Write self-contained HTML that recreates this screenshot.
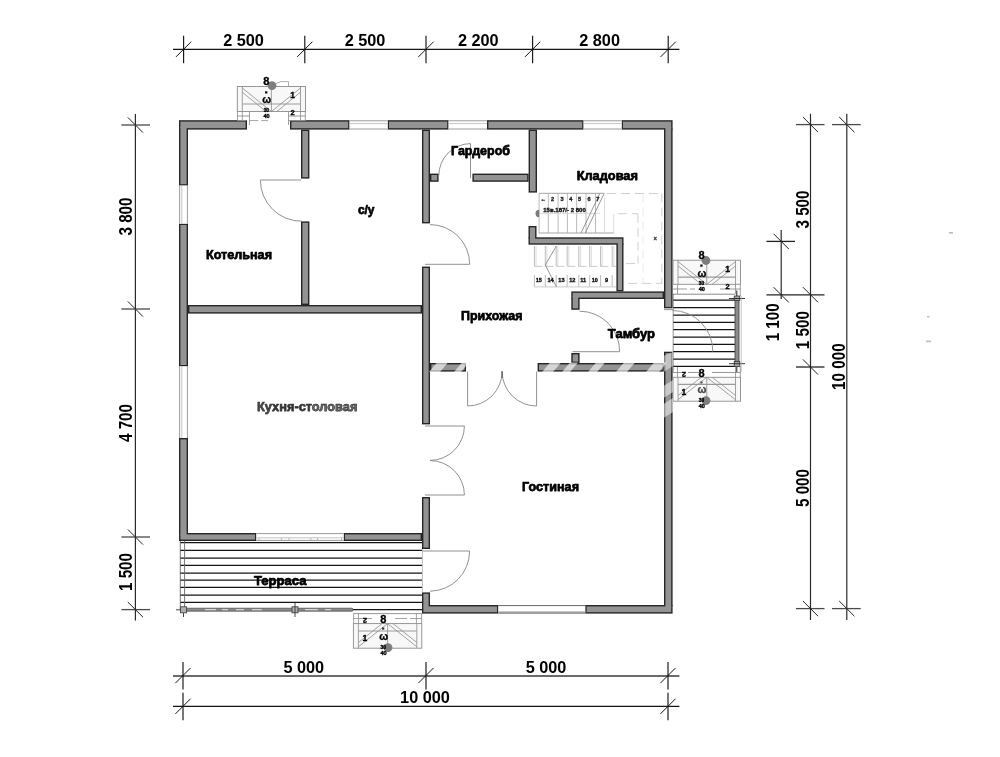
<!DOCTYPE html>
<html><head><meta charset="utf-8"><title>Plan</title>
<style>
html,body{margin:0;padding:0;background:#fff;}
body{width:1000px;height:757px;overflow:hidden;font-family:"Liberation Sans",sans-serif;}
svg{display:block;opacity:0.999;will-change:transform}
text{font-family:"Liberation Sans",sans-serif;}
</style></head><body>
<svg width="1000" height="757" viewBox="0 0 1000 757">
<rect width="1000" height="757" fill="#ffffff"/>
<g shape-rendering="auto">
<rect x="179.00" y="120.20" width="68.00" height="9.40" fill="#262626"/>
<rect x="290.00" y="120.20" width="59.60" height="9.40" fill="#262626"/>
<rect x="387.60" y="120.20" width="61.00" height="9.40" fill="#262626"/>
<rect x="487.00" y="120.20" width="96.60" height="9.40" fill="#262626"/>
<rect x="621.60" y="120.20" width="51.00" height="9.40" fill="#262626"/>
<rect x="179.00" y="128.60" width="9.00" height="57.00" fill="#262626"/>
<rect x="179.00" y="223.60" width="9.00" height="142.80" fill="#262626"/>
<rect x="179.00" y="438.00" width="9.00" height="96.00" fill="#262626"/>
<rect x="664.00" y="128.60" width="8.60" height="179.70" fill="#262626"/>
<rect x="664.00" y="351.70" width="8.60" height="254.30" fill="#262626"/>
<rect x="422.00" y="605.00" width="76.40" height="8.60" fill="#262626"/>
<rect x="585.20" y="605.00" width="87.40" height="8.60" fill="#262626"/>
<rect x="179.00" y="533.00" width="77.40" height="8.00" fill="#262626"/>
<rect x="343.60" y="533.00" width="78.40" height="8.00" fill="#262626"/>
<rect x="422.00" y="129.60" width="8.00" height="93.80" fill="#262626"/>
<rect x="422.00" y="266.60" width="8.00" height="157.80" fill="#262626"/>
<rect x="422.00" y="497.00" width="8.00" height="52.00" fill="#262626"/>
<rect x="422.00" y="592.40" width="8.00" height="13.60" fill="#262626"/>
<rect x="188.00" y="305.00" width="234.00" height="8.60" fill="#262626"/>
<rect x="301.00" y="129.60" width="8.40" height="49.00" fill="#262626"/>
<rect x="301.00" y="221.40" width="8.40" height="83.60" fill="#262626"/>
<rect x="430.00" y="173.60" width="8.60" height="8.20" fill="#262626"/>
<rect x="472.40" y="173.60" width="56.20" height="8.20" fill="#262626"/>
<rect x="528.60" y="129.60" width="8.40" height="63.00" fill="#262626"/>
<rect x="528.50" y="226.00" width="8.00" height="12.30" fill="#262626"/>
<rect x="528.50" y="237.30" width="95.00" height="7.40" fill="#262626"/>
<rect x="616.40" y="243.70" width="7.10" height="47.70" fill="#262626"/>
<rect x="571.30" y="291.40" width="92.70" height="7.60" fill="#262626"/>
<rect x="571.30" y="298.00" width="8.30" height="11.80" fill="#262626"/>
<rect x="430.00" y="363.00" width="36.00" height="8.60" fill="#262626"/>
<rect x="537.60" y="363.00" width="126.40" height="8.60" fill="#262626"/>
<rect x="571.30" y="353.00" width="8.30" height="10.00" fill="#262626"/>
<rect x="180.40" y="121.60" width="65.20" height="6.60" fill="#939393"/>
<rect x="291.40" y="121.60" width="56.80" height="6.60" fill="#939393"/>
<rect x="389.00" y="121.60" width="58.20" height="6.60" fill="#939393"/>
<rect x="488.40" y="121.60" width="93.80" height="6.60" fill="#939393"/>
<rect x="623.00" y="121.60" width="48.20" height="6.60" fill="#939393"/>
<rect x="180.40" y="127.00" width="6.20" height="57.20" fill="#939393"/>
<rect x="180.40" y="225.00" width="6.20" height="140.00" fill="#939393"/>
<rect x="180.40" y="439.40" width="6.20" height="96.20" fill="#939393"/>
<rect x="665.40" y="127.00" width="5.80" height="179.90" fill="#939393"/>
<rect x="665.40" y="353.10" width="5.80" height="254.50" fill="#939393"/>
<rect x="423.40" y="606.40" width="73.60" height="5.80" fill="#939393"/>
<rect x="586.60" y="606.40" width="84.60" height="5.80" fill="#939393"/>
<rect x="180.40" y="534.40" width="74.60" height="5.20" fill="#939393"/>
<rect x="345.00" y="534.40" width="75.60" height="5.20" fill="#939393"/>
<rect x="423.40" y="131.00" width="5.20" height="91.00" fill="#939393"/>
<rect x="423.40" y="268.00" width="5.20" height="155.00" fill="#939393"/>
<rect x="423.40" y="498.40" width="5.20" height="49.20" fill="#939393"/>
<rect x="423.40" y="593.80" width="5.20" height="13.80" fill="#939393"/>
<rect x="189.40" y="306.40" width="231.20" height="5.80" fill="#939393"/>
<rect x="302.40" y="131.00" width="5.60" height="46.20" fill="#939393"/>
<rect x="302.40" y="222.80" width="5.60" height="80.80" fill="#939393"/>
<rect x="431.40" y="175.00" width="5.80" height="5.40" fill="#939393"/>
<rect x="473.80" y="175.00" width="53.40" height="5.40" fill="#939393"/>
<rect x="530.00" y="131.00" width="5.60" height="60.20" fill="#939393"/>
<rect x="529.90" y="227.40" width="5.20" height="12.50" fill="#939393"/>
<rect x="529.90" y="238.70" width="92.20" height="4.60" fill="#939393"/>
<rect x="617.80" y="242.10" width="4.30" height="47.90" fill="#939393"/>
<rect x="572.70" y="292.80" width="89.90" height="4.80" fill="#939393"/>
<rect x="572.70" y="296.40" width="5.50" height="12.00" fill="#939393"/>
<rect x="431.40" y="364.40" width="33.20" height="5.80" fill="#939393"/>
<rect x="539.00" y="364.40" width="123.60" height="5.80" fill="#939393"/>
<rect x="572.70" y="354.40" width="5.50" height="7.20" fill="#939393"/>
</g>
<rect x="349.60" y="120.60" width="38.00" height="8.60" fill="#fff" stroke="none" stroke-width="1.0" />
<line x1="349.60" y1="120.80" x2="387.60" y2="120.80" stroke="#8f8f8f" stroke-width="0.9" />
<line x1="349.60" y1="129.00" x2="387.60" y2="129.00" stroke="#8f8f8f" stroke-width="0.9" />
<line x1="349.60" y1="123.60" x2="387.60" y2="123.60" stroke="#b5b5b5" stroke-width="0.8" />
<rect x="448.60" y="120.60" width="38.40" height="8.60" fill="#fff" stroke="none" stroke-width="1.0" />
<line x1="448.60" y1="120.80" x2="487.00" y2="120.80" stroke="#8f8f8f" stroke-width="0.9" />
<line x1="448.60" y1="129.00" x2="487.00" y2="129.00" stroke="#8f8f8f" stroke-width="0.9" />
<line x1="448.60" y1="123.60" x2="487.00" y2="123.60" stroke="#b5b5b5" stroke-width="0.8" />
<rect x="583.60" y="120.60" width="38.00" height="8.60" fill="#fff" stroke="none" stroke-width="1.0" />
<line x1="583.60" y1="120.80" x2="621.60" y2="120.80" stroke="#8f8f8f" stroke-width="0.9" />
<line x1="583.60" y1="129.00" x2="621.60" y2="129.00" stroke="#8f8f8f" stroke-width="0.9" />
<line x1="583.60" y1="123.60" x2="621.60" y2="123.60" stroke="#b5b5b5" stroke-width="0.8" />
<rect x="179.40" y="185.60" width="8.20" height="38.00" fill="#fff" stroke="none" stroke-width="1.0" />
<line x1="179.60" y1="185.60" x2="179.60" y2="223.60" stroke="#8f8f8f" stroke-width="0.9" />
<line x1="187.40" y1="185.60" x2="187.40" y2="223.60" stroke="#8f8f8f" stroke-width="0.9" />
<line x1="181.80" y1="185.60" x2="181.80" y2="223.60" stroke="#b5b5b5" stroke-width="0.8" />
<rect x="179.40" y="366.40" width="8.20" height="71.60" fill="#fff" stroke="none" stroke-width="1.0" />
<line x1="179.60" y1="366.40" x2="179.60" y2="438.00" stroke="#8f8f8f" stroke-width="0.9" />
<line x1="187.40" y1="366.40" x2="187.40" y2="438.00" stroke="#8f8f8f" stroke-width="0.9" />
<line x1="181.80" y1="366.40" x2="181.80" y2="438.00" stroke="#b5b5b5" stroke-width="0.8" />
<rect x="256.40" y="533.40" width="87.20" height="7.20" fill="#fff" stroke="none" stroke-width="1.0" />
<line x1="256.40" y1="533.60" x2="343.60" y2="533.60" stroke="#8f8f8f" stroke-width="0.9" />
<line x1="256.40" y1="540.40" x2="343.60" y2="540.40" stroke="#8f8f8f" stroke-width="0.9" />
<line x1="256.40" y1="537.80" x2="343.60" y2="537.80" stroke="#b5b5b5" stroke-width="0.8" />
<line x1="259.00" y1="538.00" x2="259.00" y2="540.60" stroke="#aaa" stroke-width="0.8" />
<line x1="281.40" y1="538.00" x2="281.40" y2="540.60" stroke="#aaa" stroke-width="0.8" />
<line x1="289.00" y1="538.00" x2="289.00" y2="540.60" stroke="#aaa" stroke-width="0.8" />
<line x1="310.80" y1="538.00" x2="310.80" y2="540.60" stroke="#aaa" stroke-width="0.8" />
<line x1="317.40" y1="538.00" x2="317.40" y2="540.60" stroke="#aaa" stroke-width="0.8" />
<line x1="341.50" y1="538.00" x2="341.50" y2="540.60" stroke="#aaa" stroke-width="0.8" />
<rect x="498.40" y="605.40" width="86.80" height="7.80" fill="#fff" stroke="none" stroke-width="1.0" />
<line x1="498.40" y1="605.60" x2="585.20" y2="605.60" stroke="#555" stroke-width="0.9" />
<line x1="498.40" y1="613.00" x2="585.20" y2="613.00" stroke="#8f8f8f" stroke-width="0.9" />
<line x1="498.40" y1="611.60" x2="585.20" y2="611.60" stroke="#b5b5b5" stroke-width="0.8" />
<line x1="498.40" y1="613.00" x2="585.20" y2="613.00" stroke="#666" stroke-width="0.9" />
<line x1="180.00" y1="542.60" x2="422.00" y2="542.60" stroke="#141414" stroke-width="1.25" />
<line x1="180.00" y1="550.40" x2="422.00" y2="550.40" stroke="#141414" stroke-width="1.25" />
<line x1="180.00" y1="558.00" x2="422.00" y2="558.00" stroke="#141414" stroke-width="1.25" />
<line x1="180.00" y1="565.40" x2="422.00" y2="565.40" stroke="#141414" stroke-width="1.25" />
<line x1="180.00" y1="573.00" x2="422.00" y2="573.00" stroke="#141414" stroke-width="1.25" />
<line x1="180.00" y1="580.20" x2="422.00" y2="580.20" stroke="#141414" stroke-width="1.25" />
<line x1="180.00" y1="587.40" x2="422.00" y2="587.40" stroke="#141414" stroke-width="1.25" />
<line x1="180.00" y1="595.00" x2="422.00" y2="595.00" stroke="#141414" stroke-width="1.25" />
<line x1="180.00" y1="602.40" x2="422.00" y2="602.40" stroke="#141414" stroke-width="1.25" />
<line x1="180.00" y1="609.60" x2="422.00" y2="609.60" stroke="#141414" stroke-width="1.25" />
<line x1="180.30" y1="541.00" x2="180.30" y2="611.00" stroke="#666" stroke-width="0.9" />
<line x1="184.60" y1="541.00" x2="184.60" y2="611.00" stroke="#666" stroke-width="0.9" />
<rect x="186.00" y="608.20" width="167.00" height="3.00" fill="#8a8a8a" stroke="#444" stroke-width="0.7" rx="1.2"/>
<line x1="205.00" y1="609.70" x2="216.00" y2="609.70" stroke="#e8e8e8" stroke-width="1.0" />
<line x1="222.00" y1="609.70" x2="228.00" y2="609.70" stroke="#e8e8e8" stroke-width="1.0" />
<line x1="236.00" y1="609.70" x2="244.00" y2="609.70" stroke="#e8e8e8" stroke-width="1.0" />
<line x1="252.00" y1="609.70" x2="262.00" y2="609.70" stroke="#e8e8e8" stroke-width="1.0" />
<line x1="305.00" y1="609.70" x2="318.00" y2="609.70" stroke="#e8e8e8" stroke-width="1.0" />
<line x1="325.00" y1="609.70" x2="331.00" y2="609.70" stroke="#e8e8e8" stroke-width="1.0" />
<rect x="180.50" y="606.80" width="6.00" height="6.00" fill="#b0b0b0" stroke="#444" stroke-width="0.9" />
<rect x="292.00" y="606.80" width="6.00" height="6.00" fill="#b0b0b0" stroke="#444" stroke-width="0.9" />
<line x1="176.00" y1="609.80" x2="180.00" y2="609.80" stroke="#333" stroke-width="0.9" />
<line x1="183.50" y1="613.00" x2="183.50" y2="617.00" stroke="#333" stroke-width="0.9" />
<line x1="295.00" y1="603.00" x2="295.00" y2="617.00" stroke="#333" stroke-width="0.9" />
<line x1="673.00" y1="294.20" x2="735.00" y2="294.20" stroke="#8a8a8a" stroke-width="1.0" />
<line x1="673.00" y1="300.20" x2="735.00" y2="300.20" stroke="#141414" stroke-width="1.25" />
<line x1="673.00" y1="307.60" x2="735.00" y2="307.60" stroke="#141414" stroke-width="1.25" />
<line x1="673.00" y1="315.00" x2="735.00" y2="315.00" stroke="#141414" stroke-width="1.25" />
<line x1="673.00" y1="322.30" x2="735.00" y2="322.30" stroke="#141414" stroke-width="1.25" />
<line x1="673.00" y1="329.70" x2="735.00" y2="329.70" stroke="#141414" stroke-width="1.25" />
<line x1="673.00" y1="337.00" x2="735.00" y2="337.00" stroke="#141414" stroke-width="1.25" />
<line x1="673.00" y1="344.40" x2="735.00" y2="344.40" stroke="#141414" stroke-width="1.25" />
<line x1="673.00" y1="351.60" x2="735.00" y2="351.60" stroke="#141414" stroke-width="1.25" />
<line x1="673.00" y1="359.00" x2="735.00" y2="359.00" stroke="#141414" stroke-width="1.25" />
<line x1="673.00" y1="366.40" x2="735.00" y2="366.40" stroke="#141414" stroke-width="1.25" />
<line x1="673.20" y1="294.00" x2="673.20" y2="372.00" stroke="#777" stroke-width="0.8" />
<rect x="735.00" y="297.00" width="4.00" height="69.00" fill="#8a8a8a" stroke="#3a3a3a" stroke-width="0.8" />
<rect x="734.20" y="296.00" width="5.60" height="4.50" fill="#a5a5a5" stroke="#333" stroke-width="0.8" />
<rect x="734.20" y="361.50" width="5.60" height="5.00" fill="#a5a5a5" stroke="#333" stroke-width="0.8" />
<line x1="729.00" y1="298.50" x2="745.00" y2="298.50" stroke="#222" stroke-width="0.9" />
<line x1="736.80" y1="290.50" x2="736.80" y2="296.00" stroke="#222" stroke-width="1.0" />
<line x1="729.00" y1="363.70" x2="745.00" y2="363.70" stroke="#222" stroke-width="0.9" />
<line x1="736.80" y1="367.00" x2="736.80" y2="372.00" stroke="#222" stroke-width="1.0" />
<line x1="741.20" y1="296.00" x2="741.20" y2="372.00" stroke="#aaa" stroke-width="0.7" />
<rect x="237.30" y="86.50" width="68.20" height="25.00" fill="#f8f8f8" stroke="#8c8c8c" stroke-width="0.9" />
<line x1="242.30" y1="86.50" x2="242.30" y2="111.50" stroke="#8c8c8c" stroke-width="0.8" />
<line x1="300.50" y1="86.50" x2="300.50" y2="111.50" stroke="#8c8c8c" stroke-width="0.8" />
<line x1="242.30" y1="104.00" x2="300.50" y2="104.00" stroke="#9a9a9a" stroke-width="1.2" />
<line x1="242.30" y1="88.00" x2="271.40" y2="111.50" stroke="#8c8c8c" stroke-width="0.8" />
<line x1="300.50" y1="88.00" x2="271.40" y2="111.50" stroke="#8c8c8c" stroke-width="0.8" />
<line x1="242.30" y1="92.20" x2="265.94" y2="111.50" stroke="#8c8c8c" stroke-width="0.8" />
<line x1="300.50" y1="92.20" x2="276.86" y2="111.50" stroke="#8c8c8c" stroke-width="0.8" />
<line x1="271.40" y1="86.50" x2="271.40" y2="111.50" stroke="#8c8c8c" stroke-width="0.8" />
<circle cx="272" cy="85.6" r="4.4" fill="#7d7d7d"/>
<line x1="237.30" y1="116.00" x2="250.00" y2="116.00" stroke="#8c8c8c" stroke-width="0.9" />
<line x1="288.00" y1="116.00" x2="305.50" y2="116.00" stroke="#8c8c8c" stroke-width="0.9" />
<line x1="237.30" y1="120.60" x2="268.00" y2="120.60" stroke="#999" stroke-width="0.9" stroke-dasharray="9 3"/>
<line x1="288.00" y1="120.60" x2="305.50" y2="120.60" stroke="#999" stroke-width="0.9" />
<line x1="237.50" y1="111.50" x2="237.50" y2="121.00" stroke="#8c8c8c" stroke-width="0.8" />
<line x1="242.30" y1="111.50" x2="242.30" y2="121.00" stroke="#8c8c8c" stroke-width="0.8" />
<line x1="249.50" y1="111.50" x2="249.50" y2="125.00" stroke="#8c8c8c" stroke-width="0.8" />
<line x1="288.50" y1="111.50" x2="288.50" y2="125.00" stroke="#8c8c8c" stroke-width="0.8" />
<line x1="300.50" y1="111.50" x2="300.50" y2="121.00" stroke="#8c8c8c" stroke-width="0.8" />
<line x1="305.30" y1="111.50" x2="305.30" y2="121.00" stroke="#8c8c8c" stroke-width="0.8" />
<path d="M276,83.5 L281,81.6 L288.5,81.6 L288.5,86.5" fill="none" stroke="#999" stroke-width="0.8" />
<text x="292.50" y="97.50" font-size="8.5" font-weight="bold" text-anchor="middle" fill="#000"  stroke="#000" stroke-width="0.35" stroke-linejoin="round">1</text>
<text x="292.50" y="114.50" font-size="7.5" font-weight="bold" text-anchor="middle" fill="#000"  stroke="#000" stroke-width="0.35" stroke-linejoin="round">2</text>
<text x="266.30" y="84.50" font-size="11" font-weight="bold" text-anchor="middle" fill="#000"  stroke="#000" stroke-width="0.35" stroke-linejoin="round">8</text>
<rect x="265.00" y="91.30" width="2.40" height="2.20" fill="#111" stroke="none" stroke-width="1.0" />
<text x="266.80" y="102.50" font-size="10.5" font-weight="bold" text-anchor="middle" fill="#000"  stroke="#000" stroke-width="0.35" stroke-linejoin="round">ω</text>
<text x="266.30" y="112.00" font-size="4.8" font-weight="bold" text-anchor="middle" fill="#000"  stroke="#000" stroke-width="0.35" stroke-linejoin="round">30</text>
<text x="266.60" y="118.20" font-size="5.6" font-weight="bold" text-anchor="middle" fill="#000"  stroke="#000" stroke-width="0.35" stroke-linejoin="round">40</text>
<rect x="673.00" y="260.20" width="67.50" height="24.10" fill="#f8f8f8" stroke="#8c8c8c" stroke-width="0.9" />
<line x1="678.00" y1="260.20" x2="678.00" y2="284.30" stroke="#8c8c8c" stroke-width="0.8" />
<line x1="735.50" y1="260.20" x2="735.50" y2="284.30" stroke="#8c8c8c" stroke-width="0.8" />
<line x1="678.00" y1="277.07" x2="735.50" y2="277.07" stroke="#9a9a9a" stroke-width="1.2" />
<line x1="678.00" y1="261.70" x2="706.75" y2="284.30" stroke="#8c8c8c" stroke-width="0.8" />
<line x1="735.50" y1="261.70" x2="706.75" y2="284.30" stroke="#8c8c8c" stroke-width="0.8" />
<line x1="678.00" y1="265.90" x2="701.29" y2="284.30" stroke="#8c8c8c" stroke-width="0.8" />
<line x1="735.50" y1="265.90" x2="712.21" y2="284.30" stroke="#8c8c8c" stroke-width="0.8" />
<line x1="706.75" y1="260.20" x2="706.75" y2="284.30" stroke="#8c8c8c" stroke-width="0.8" />
<circle cx="706" cy="260.5" r="4.4" fill="#7d7d7d"/>
<line x1="673.00" y1="289.00" x2="695.00" y2="289.00" stroke="#8c8c8c" stroke-width="0.9" stroke-dasharray="14 3"/>
<line x1="720.00" y1="289.00" x2="740.50" y2="289.00" stroke="#8c8c8c" stroke-width="0.9" />
<line x1="677.50" y1="284.30" x2="677.50" y2="294.00" stroke="#8c8c8c" stroke-width="0.8" />
<line x1="735.50" y1="284.30" x2="735.50" y2="294.00" stroke="#8c8c8c" stroke-width="0.8" />
<line x1="740.30" y1="284.30" x2="740.30" y2="296.00" stroke="#8c8c8c" stroke-width="0.8" />
<text x="727.70" y="271.50" font-size="8.5" font-weight="bold" text-anchor="middle" fill="#000"  stroke="#000" stroke-width="0.35" stroke-linejoin="round">1</text>
<text x="727.70" y="289.00" font-size="7.5" font-weight="bold" text-anchor="middle" fill="#000"  stroke="#000" stroke-width="0.35" stroke-linejoin="round">2</text>
<text x="701.50" y="258.60" font-size="11" font-weight="bold" text-anchor="middle" fill="#000"  stroke="#000" stroke-width="0.35" stroke-linejoin="round">8</text>
<rect x="700.30" y="264.50" width="2.30" height="2.20" fill="#111" stroke="none" stroke-width="1.0" />
<text x="702.00" y="276.50" font-size="10.5" font-weight="bold" text-anchor="middle" fill="#000"  stroke="#000" stroke-width="0.35" stroke-linejoin="round">ω</text>
<text x="701.50" y="285.20" font-size="4.8" font-weight="bold" text-anchor="middle" fill="#000"  stroke="#000" stroke-width="0.35" stroke-linejoin="round">30</text>
<text x="701.80" y="291.40" font-size="5.6" font-weight="bold" text-anchor="middle" fill="#000"  stroke="#000" stroke-width="0.35" stroke-linejoin="round">40</text>
<rect x="673.00" y="377.30" width="67.50" height="23.90" fill="#f8f8f8" stroke="#8c8c8c" stroke-width="0.9" />
<line x1="678.00" y1="377.30" x2="678.00" y2="401.20" stroke="#8c8c8c" stroke-width="0.8" />
<line x1="735.50" y1="377.30" x2="735.50" y2="401.20" stroke="#8c8c8c" stroke-width="0.8" />
<line x1="678.00" y1="384.47" x2="735.50" y2="384.47" stroke="#9a9a9a" stroke-width="1.2" />
<line x1="678.00" y1="399.70" x2="706.75" y2="377.30" stroke="#8c8c8c" stroke-width="0.8" />
<line x1="735.50" y1="399.70" x2="706.75" y2="377.30" stroke="#8c8c8c" stroke-width="0.8" />
<line x1="678.00" y1="395.50" x2="701.29" y2="377.30" stroke="#8c8c8c" stroke-width="0.8" />
<line x1="735.50" y1="395.50" x2="712.21" y2="377.30" stroke="#8c8c8c" stroke-width="0.8" />
<line x1="706.75" y1="401.20" x2="706.75" y2="377.30" stroke="#8c8c8c" stroke-width="0.8" />
<circle cx="706" cy="400.6" r="4.4" fill="#7d7d7d"/>
<line x1="673.00" y1="372.50" x2="700.00" y2="372.50" stroke="#8c8c8c" stroke-width="0.9" stroke-dasharray="12 3"/>
<line x1="712.00" y1="372.50" x2="740.50" y2="372.50" stroke="#8c8c8c" stroke-width="0.9" />
<line x1="677.50" y1="367.00" x2="677.50" y2="377.30" stroke="#8c8c8c" stroke-width="0.8" />
<line x1="735.50" y1="367.00" x2="735.50" y2="377.30" stroke="#8c8c8c" stroke-width="0.8" />
<line x1="740.30" y1="366.00" x2="740.30" y2="377.30" stroke="#8c8c8c" stroke-width="0.8" />
<text x="683.80" y="395.20" font-size="8.5" font-weight="bold" text-anchor="middle" fill="#000"  stroke="#000" stroke-width="0.35" stroke-linejoin="round">1</text>
<text x="684.00" y="372.30" font-size="7.5" font-weight="bold" text-anchor="middle" fill="#000" transform="rotate(180 684.00 372.30)"  stroke="#000" stroke-width="0.35" stroke-linejoin="round">2</text>
<text x="701.50" y="377.20" font-size="11" font-weight="bold" text-anchor="middle" fill="#000"  stroke="#000" stroke-width="0.35" stroke-linejoin="round">8</text>
<rect x="700.30" y="381.50" width="2.30" height="2.00" fill="#555" stroke="none" stroke-width="1.0" />
<text x="702.00" y="393.20" font-size="10.5" font-weight="bold" text-anchor="middle" fill="#444"  stroke="#444" stroke-width="0.35" stroke-linejoin="round">ω</text>
<text x="701.50" y="401.50" font-size="4.8" font-weight="bold" text-anchor="middle" fill="#000"  stroke="#000" stroke-width="0.35" stroke-linejoin="round">30</text>
<text x="701.80" y="407.80" font-size="5.6" font-weight="bold" text-anchor="middle" fill="#000"  stroke="#000" stroke-width="0.35" stroke-linejoin="round">40</text>
<rect x="353.40" y="623.60" width="68.40" height="24.60" fill="#f8f8f8" stroke="#8c8c8c" stroke-width="0.9" />
<line x1="358.40" y1="623.60" x2="358.40" y2="648.20" stroke="#8c8c8c" stroke-width="0.8" />
<line x1="416.80" y1="623.60" x2="416.80" y2="648.20" stroke="#8c8c8c" stroke-width="0.8" />
<line x1="358.40" y1="630.98" x2="416.80" y2="630.98" stroke="#9a9a9a" stroke-width="1.2" />
<line x1="358.40" y1="646.70" x2="387.60" y2="623.60" stroke="#8c8c8c" stroke-width="0.8" />
<line x1="416.80" y1="646.70" x2="387.60" y2="623.60" stroke="#8c8c8c" stroke-width="0.8" />
<line x1="358.40" y1="642.50" x2="382.14" y2="623.60" stroke="#8c8c8c" stroke-width="0.8" />
<line x1="416.80" y1="642.50" x2="393.06" y2="623.60" stroke="#8c8c8c" stroke-width="0.8" />
<line x1="387.60" y1="648.20" x2="387.60" y2="623.60" stroke="#8c8c8c" stroke-width="0.8" />
<circle cx="388" cy="647.6" r="4.4" fill="#7d7d7d"/>
<line x1="353.40" y1="613.60" x2="421.80" y2="613.60" stroke="#8c8c8c" stroke-width="0.9" />
<line x1="353.40" y1="618.50" x2="372.00" y2="618.50" stroke="#999" stroke-width="0.9" />
<line x1="395.00" y1="618.50" x2="421.80" y2="618.50" stroke="#999" stroke-width="0.9" stroke-dasharray="12 3"/>
<line x1="353.60" y1="613.40" x2="353.60" y2="623.60" stroke="#8c8c8c" stroke-width="0.8" />
<line x1="358.50" y1="613.40" x2="358.50" y2="623.60" stroke="#8c8c8c" stroke-width="0.8" />
<line x1="416.40" y1="613.40" x2="416.40" y2="623.60" stroke="#8c8c8c" stroke-width="0.8" />
<line x1="421.60" y1="613.40" x2="421.60" y2="623.60" stroke="#8c8c8c" stroke-width="0.8" />
<text x="364.80" y="641.30" font-size="8.5" font-weight="bold" text-anchor="middle" fill="#000"  stroke="#000" stroke-width="0.35" stroke-linejoin="round">1</text>
<text x="365.00" y="617.80" font-size="7.5" font-weight="bold" text-anchor="middle" fill="#000" transform="rotate(180 365.00 617.80)"  stroke="#000" stroke-width="0.35" stroke-linejoin="round">2</text>
<text x="383.30" y="622.50" font-size="11" font-weight="bold" text-anchor="middle" fill="#000"  stroke="#000" stroke-width="0.35" stroke-linejoin="round">8</text>
<rect x="382.00" y="627.50" width="2.30" height="2.10" fill="#333" stroke="none" stroke-width="1.0" />
<text x="383.60" y="639.50" font-size="10.5" font-weight="bold" text-anchor="middle" fill="#000"  stroke="#000" stroke-width="0.35" stroke-linejoin="round">ω</text>
<text x="383.20" y="648.50" font-size="4.8" font-weight="bold" text-anchor="middle" fill="#000"  stroke="#000" stroke-width="0.35" stroke-linejoin="round">30</text>
<text x="383.50" y="654.50" font-size="5.6" font-weight="bold" text-anchor="middle" fill="#000"  stroke="#000" stroke-width="0.35" stroke-linejoin="round">40</text>
<line x1="539.10" y1="193.30" x2="539.10" y2="233.00" stroke="#b4b4b4" stroke-width="0.9" />
<line x1="548.30" y1="193.30" x2="548.30" y2="233.00" stroke="#b4b4b4" stroke-width="0.9" />
<line x1="558.10" y1="193.30" x2="558.10" y2="233.00" stroke="#b4b4b4" stroke-width="0.9" />
<line x1="567.40" y1="193.30" x2="567.40" y2="233.00" stroke="#b4b4b4" stroke-width="0.9" />
<line x1="576.60" y1="193.30" x2="576.60" y2="233.00" stroke="#b4b4b4" stroke-width="0.9" />
<line x1="586.00" y1="193.30" x2="586.00" y2="233.00" stroke="#b4b4b4" stroke-width="0.9" />
<line x1="595.50" y1="193.30" x2="595.50" y2="233.00" stroke="#b4b4b4" stroke-width="0.9" />
<line x1="539.00" y1="193.30" x2="604.20" y2="193.30" stroke="#9a9a9a" stroke-width="0.9" />
<line x1="539.00" y1="233.00" x2="614.00" y2="233.00" stroke="#9a9a9a" stroke-width="0.9" />
<line x1="539.00" y1="213.40" x2="600.00" y2="213.40" stroke="#cfcfcf" stroke-width="0.8" />
<line x1="604.20" y1="193.30" x2="585.30" y2="233.00" stroke="#8a8a8a" stroke-width="0.9" />
<line x1="599.90" y1="193.30" x2="581.00" y2="233.00" stroke="#8a8a8a" stroke-width="0.9" />
<line x1="604.50" y1="198.00" x2="604.50" y2="233.00" stroke="#d0d0d0" stroke-width="0.8" />
<line x1="613.70" y1="214.00" x2="613.70" y2="233.00" stroke="#d0d0d0" stroke-width="0.8" />
<line x1="607.00" y1="193.50" x2="662.00" y2="193.50" stroke="#cfcfcf" stroke-width="1.0" stroke-dasharray="9 5"/>
<line x1="661.80" y1="193.50" x2="661.80" y2="283.40" stroke="#cfcfcf" stroke-width="1.0" stroke-dasharray="9 5"/>
<line x1="628.00" y1="283.40" x2="662.00" y2="283.40" stroke="#cfcfcf" stroke-width="1.0" stroke-dasharray="9 5"/>
<line x1="618.00" y1="213.70" x2="638.00" y2="213.70" stroke="#cfcfcf" stroke-width="1.0" stroke-dasharray="9 5"/>
<line x1="638.00" y1="213.70" x2="638.00" y2="263.60" stroke="#cfcfcf" stroke-width="1.0" stroke-dasharray="9 5"/>
<line x1="626.00" y1="263.60" x2="638.00" y2="263.60" stroke="#cfcfcf" stroke-width="1.0" stroke-dasharray="9 5"/>
<line x1="643.00" y1="193.50" x2="643.00" y2="283.00" stroke="#e6e6e6" stroke-width="0.8" stroke-dasharray="9 5"/>
<path d="M539.2,209.8 A3.7,3.7 0 0 0 539.2,217.2 Z" fill="#7a7a7a"/>
<text x="564.50" y="212.20" font-size="6" font-weight="bold" text-anchor="middle" fill="#111" textLength="42.5" lengthAdjust="spacingAndGlyphs"  stroke="#111" stroke-width="0.35" stroke-linejoin="round">15в.187/- 2 800</text>
<text x="543.20" y="200.60" font-size="5.6" font-weight="bold" text-anchor="middle" fill="#222"  stroke="#222" stroke-width="0.35" stroke-linejoin="round">←</text>
<text x="552.60" y="200.60" font-size="5.6" font-weight="bold" text-anchor="middle" fill="#222"  stroke="#222" stroke-width="0.35" stroke-linejoin="round">2</text>
<text x="562.00" y="200.60" font-size="5.6" font-weight="bold" text-anchor="middle" fill="#222"  stroke="#222" stroke-width="0.35" stroke-linejoin="round">3</text>
<text x="570.80" y="200.60" font-size="5.6" font-weight="bold" text-anchor="middle" fill="#222"  stroke="#222" stroke-width="0.35" stroke-linejoin="round">4</text>
<text x="579.50" y="200.60" font-size="5.6" font-weight="bold" text-anchor="middle" fill="#222"  stroke="#222" stroke-width="0.35" stroke-linejoin="round">5</text>
<text x="589.00" y="200.60" font-size="5.6" font-weight="bold" text-anchor="middle" fill="#222"  stroke="#222" stroke-width="0.35" stroke-linejoin="round">6</text>
<text x="597.70" y="200.60" font-size="5.6" font-weight="bold" text-anchor="middle" fill="#222"  stroke="#222" stroke-width="0.35" stroke-linejoin="round">7</text>
<text x="655.30" y="240.30" font-size="5.5" font-weight="bold" text-anchor="middle" fill="#333"  stroke="#333" stroke-width="0.35" stroke-linejoin="round">x</text>
<line x1="534.40" y1="246.00" x2="534.40" y2="266.40" stroke="#b4b4b4" stroke-width="0.9" />
<line x1="536.00" y1="246.00" x2="536.00" y2="266.40" stroke="#d4d4d4" stroke-width="0.8" />
<line x1="534.40" y1="275.00" x2="534.40" y2="286.70" stroke="#b4b4b4" stroke-width="0.9" />
<line x1="545.30" y1="246.00" x2="545.30" y2="266.40" stroke="#b4b4b4" stroke-width="0.9" />
<line x1="546.90" y1="246.00" x2="546.90" y2="266.40" stroke="#d4d4d4" stroke-width="0.8" />
<line x1="545.30" y1="275.00" x2="545.30" y2="286.70" stroke="#b4b4b4" stroke-width="0.9" />
<line x1="556.20" y1="246.00" x2="556.20" y2="266.40" stroke="#b4b4b4" stroke-width="0.9" />
<line x1="557.80" y1="246.00" x2="557.80" y2="266.40" stroke="#d4d4d4" stroke-width="0.8" />
<line x1="556.20" y1="275.00" x2="556.20" y2="286.70" stroke="#b4b4b4" stroke-width="0.9" />
<line x1="567.20" y1="246.00" x2="567.20" y2="266.40" stroke="#b4b4b4" stroke-width="0.9" />
<line x1="568.80" y1="246.00" x2="568.80" y2="266.40" stroke="#d4d4d4" stroke-width="0.8" />
<line x1="567.20" y1="275.00" x2="567.20" y2="286.70" stroke="#b4b4b4" stroke-width="0.9" />
<line x1="578.80" y1="246.00" x2="578.80" y2="266.40" stroke="#b4b4b4" stroke-width="0.9" />
<line x1="580.40" y1="246.00" x2="580.40" y2="266.40" stroke="#d4d4d4" stroke-width="0.8" />
<line x1="578.80" y1="275.00" x2="578.80" y2="286.70" stroke="#b4b4b4" stroke-width="0.9" />
<line x1="589.70" y1="246.00" x2="589.70" y2="266.40" stroke="#b4b4b4" stroke-width="0.9" />
<line x1="591.30" y1="246.00" x2="591.30" y2="266.40" stroke="#d4d4d4" stroke-width="0.8" />
<line x1="589.70" y1="275.00" x2="589.70" y2="286.70" stroke="#b4b4b4" stroke-width="0.9" />
<line x1="600.60" y1="246.00" x2="600.60" y2="266.40" stroke="#b4b4b4" stroke-width="0.9" />
<line x1="602.20" y1="246.00" x2="602.20" y2="266.40" stroke="#d4d4d4" stroke-width="0.8" />
<line x1="600.60" y1="275.00" x2="600.60" y2="286.70" stroke="#b4b4b4" stroke-width="0.9" />
<line x1="612.20" y1="246.00" x2="612.20" y2="266.40" stroke="#b4b4b4" stroke-width="0.9" />
<line x1="613.80" y1="246.00" x2="613.80" y2="266.40" stroke="#d4d4d4" stroke-width="0.8" />
<line x1="612.20" y1="275.00" x2="612.20" y2="286.70" stroke="#b4b4b4" stroke-width="0.9" />
<line x1="534.40" y1="266.40" x2="616.00" y2="266.40" stroke="#c4c4c4" stroke-width="0.9" stroke-dasharray="8 3"/>
<line x1="534.40" y1="286.90" x2="616.00" y2="286.90" stroke="#c4c4c4" stroke-width="0.9" />
<path d="M556.3,246 L545.3,265 L556.3,286.7" fill="none" stroke="#8a8a8a" stroke-width="0.9" />
<text x="538.80" y="281.60" font-size="5.6" font-weight="bold" text-anchor="middle" fill="#111"  stroke="#111" stroke-width="0.35" stroke-linejoin="round">15</text>
<text x="550.50" y="281.60" font-size="5.6" font-weight="bold" text-anchor="middle" fill="#111"  stroke="#111" stroke-width="0.35" stroke-linejoin="round">14</text>
<text x="561.40" y="281.60" font-size="5.6" font-weight="bold" text-anchor="middle" fill="#111"  stroke="#111" stroke-width="0.35" stroke-linejoin="round">13</text>
<text x="572.30" y="281.60" font-size="5.6" font-weight="bold" text-anchor="middle" fill="#111"  stroke="#111" stroke-width="0.35" stroke-linejoin="round">12</text>
<text x="583.20" y="281.60" font-size="5.6" font-weight="bold" text-anchor="middle" fill="#111"  stroke="#111" stroke-width="0.35" stroke-linejoin="round">11</text>
<text x="594.80" y="281.60" font-size="5.6" font-weight="bold" text-anchor="middle" fill="#111"  stroke="#111" stroke-width="0.35" stroke-linejoin="round">10</text>
<text x="606.50" y="281.60" font-size="5.6" font-weight="bold" text-anchor="middle" fill="#111"  stroke="#111" stroke-width="0.35" stroke-linejoin="round">9</text>
<line x1="260.40" y1="180.00" x2="301.00" y2="180.00" stroke="#858585" stroke-width="0.9" />
<path d="M260.4,180 A41,41 0 0 0 302,221.2" fill="none" stroke="#858585" stroke-width="0.9" />
<line x1="425.00" y1="264.30" x2="469.60" y2="264.30" stroke="#858585" stroke-width="0.9" />
<path d="M430,224.6 A39.7,39.7 0 0 1 469.7,264.3" fill="none" stroke="#858585" stroke-width="0.9" />
<line x1="470.50" y1="143.60" x2="470.50" y2="178.00" stroke="#858585" stroke-width="0.9" />
<path d="M438.8,175.5 A32,32 0 0 1 470.5,143.6" fill="none" stroke="#858585" stroke-width="0.9" />
<line x1="467.60" y1="371.60" x2="467.60" y2="406.00" stroke="#858585" stroke-width="0.9" />
<line x1="536.60" y1="371.60" x2="536.60" y2="406.00" stroke="#858585" stroke-width="0.9" />
<path d="M467.6,406 A34.5,34.5 0 0 0 502.1,371.6" fill="none" stroke="#858585" stroke-width="0.9" />
<path d="M536.6,406 A34.5,34.5 0 0 1 502.1,371.6" fill="none" stroke="#858585" stroke-width="0.9" />
<line x1="502.10" y1="371.00" x2="502.10" y2="378.00" stroke="#555" stroke-width="1.0" />
<line x1="425.00" y1="426.00" x2="464.40" y2="426.00" stroke="#858585" stroke-width="0.9" />
<line x1="425.00" y1="495.00" x2="464.40" y2="495.00" stroke="#858585" stroke-width="0.9" />
<path d="M464.4,426 A34.4,34.4 0 0 1 430,460.4" fill="none" stroke="#858585" stroke-width="0.9" />
<path d="M464.4,495 A34.4,34.4 0 0 0 430,460.6" fill="none" stroke="#858585" stroke-width="0.9" />
<line x1="422.00" y1="551.00" x2="469.60" y2="551.00" stroke="#858585" stroke-width="0.9" />
<path d="M469.6,551 A40,40 0 0 1 430,591.2" fill="none" stroke="#858585" stroke-width="0.9" />
<line x1="422.40" y1="549.00" x2="422.40" y2="592.40" stroke="#aaa" stroke-width="0.8" />
<line x1="572.50" y1="351.70" x2="619.60" y2="351.70" stroke="#858585" stroke-width="0.9" />
<path d="M579.6,311.2 A40,40 0 0 1 619.6,351.7" fill="none" stroke="#858585" stroke-width="0.9" />
<line x1="664.00" y1="309.60" x2="673.00" y2="309.60" stroke="#858585" stroke-width="0.9" />
<path d="M672.6,310.5 A40.5,40.5 0 0 1 712.8,351.5" fill="none" stroke="#8a8a8a" stroke-width="0.9" />
<polygon points="437.0,362.5 448.0,362.5 440.0,372.0 429.0,372.0" fill="#fff" opacity="0.62"/>
<polygon points="462.0,362.5 469.0,362.5 461.0,372.0 454.0,372.0" fill="#fff" opacity="0.62"/>
<polygon points="550.0,362.5 561.0,362.5 553.0,372.0 542.0,372.0" fill="#fff" opacity="0.62"/>
<polygon points="570.0,362.5 578.0,362.5 570.0,372.0 562.0,372.0" fill="#fff" opacity="0.62"/>
<polygon points="596.0,362.5 605.0,362.5 597.0,372.0 588.0,372.0" fill="#fff" opacity="0.62"/>
<polygon points="624.0,362.5 635.0,362.5 627.0,372.0 616.0,372.0" fill="#fff" opacity="0.62"/>
<polygon points="654.0,362.5 667.0,362.5 659.0,372.0 646.0,372.0" fill="#fff" opacity="0.62"/>
<polygon points="663.5,386.0 673.0,380.0 673.0,392.0 663.5,398.0" fill="#fff" opacity="0.5"/>
<polygon points="663.5,404.0 673.0,398.0 673.0,412.0 663.5,418.0" fill="#fff" opacity="0.5"/>
<polygon points="663.5,356.0 673.0,352.0 673.0,366.0 663.5,372.0" fill="#fff" opacity="0.45"/>
<line x1="173.00" y1="49.40" x2="679.40" y2="49.40" stroke="#141414" stroke-width="1.15" />
<line x1="183.60" y1="35.80" x2="183.60" y2="63.30" stroke="#141414" stroke-width="1.15" />
<line x1="176.00" y1="56.90" x2="191.20" y2="41.70" stroke="#141414" stroke-width="1.0" />
<line x1="304.80" y1="35.80" x2="304.80" y2="63.30" stroke="#141414" stroke-width="1.15" />
<line x1="297.20" y1="56.90" x2="312.40" y2="41.70" stroke="#141414" stroke-width="1.0" />
<line x1="426.00" y1="35.80" x2="426.00" y2="63.30" stroke="#141414" stroke-width="1.15" />
<line x1="418.40" y1="56.90" x2="433.60" y2="41.70" stroke="#141414" stroke-width="1.0" />
<line x1="532.60" y1="35.80" x2="532.60" y2="63.30" stroke="#141414" stroke-width="1.15" />
<line x1="525.00" y1="56.90" x2="540.20" y2="41.70" stroke="#141414" stroke-width="1.0" />
<line x1="668.20" y1="35.80" x2="668.20" y2="63.30" stroke="#141414" stroke-width="1.15" />
<line x1="660.60" y1="56.90" x2="675.80" y2="41.70" stroke="#141414" stroke-width="1.0" />
<text x="243.50" y="46.00" font-size="16.3" font-weight="bold" text-anchor="middle" fill="#000" stroke="none">2 500</text>
<text x="365.00" y="46.00" font-size="16.3" font-weight="bold" text-anchor="middle" fill="#000" stroke="none">2 500</text>
<text x="478.30" y="46.00" font-size="16.3" font-weight="bold" text-anchor="middle" fill="#000" stroke="none">2 200</text>
<text x="599.60" y="46.00" font-size="16.3" font-weight="bold" text-anchor="middle" fill="#000" stroke="none">2 800</text>
<line x1="173.00" y1="676.00" x2="679.40" y2="676.00" stroke="#3a3a3a" stroke-width="1.3" />
<line x1="183.00" y1="662.00" x2="183.00" y2="689.50" stroke="#141414" stroke-width="1.15" />
<line x1="175.40" y1="683.10" x2="190.60" y2="667.90" stroke="#141414" stroke-width="1.0" />
<line x1="426.00" y1="662.00" x2="426.00" y2="689.50" stroke="#141414" stroke-width="1.15" />
<line x1="418.40" y1="683.10" x2="433.60" y2="667.90" stroke="#141414" stroke-width="1.0" />
<line x1="668.00" y1="662.00" x2="668.00" y2="689.50" stroke="#141414" stroke-width="1.15" />
<line x1="660.40" y1="683.10" x2="675.60" y2="667.90" stroke="#141414" stroke-width="1.0" />
<text x="303.80" y="673.00" font-size="16.3" font-weight="bold" text-anchor="middle" fill="#000" stroke="none">5 000</text>
<text x="546.00" y="673.00" font-size="16.3" font-weight="bold" text-anchor="middle" fill="#000" stroke="none">5 000</text>
<line x1="173.00" y1="706.40" x2="679.40" y2="706.40" stroke="#141414" stroke-width="1.15" />
<line x1="183.00" y1="692.80" x2="183.00" y2="720.30" stroke="#141414" stroke-width="1.15" />
<line x1="175.40" y1="713.90" x2="190.60" y2="698.70" stroke="#141414" stroke-width="1.0" />
<line x1="668.00" y1="692.80" x2="668.00" y2="720.30" stroke="#141414" stroke-width="1.15" />
<line x1="660.40" y1="713.90" x2="675.60" y2="698.70" stroke="#141414" stroke-width="1.0" />
<text x="425.00" y="703.00" font-size="16.3" font-weight="bold" text-anchor="middle" fill="#000" stroke="none">10 000</text>
<line x1="135.40" y1="114.00" x2="135.40" y2="620.60" stroke="#2a2a2a" stroke-width="1.2" />
<line x1="121.40" y1="125.00" x2="150.00" y2="125.00" stroke="#4a4a4a" stroke-width="1.3" />
<line x1="127.80" y1="117.40" x2="143.00" y2="132.60" stroke="#222" stroke-width="1.0" />
<line x1="121.40" y1="309.00" x2="150.00" y2="309.00" stroke="#4a4a4a" stroke-width="1.3" />
<line x1="127.80" y1="301.40" x2="143.00" y2="316.60" stroke="#222" stroke-width="1.0" />
<line x1="121.40" y1="537.00" x2="150.00" y2="537.00" stroke="#4a4a4a" stroke-width="1.3" />
<line x1="127.80" y1="529.40" x2="143.00" y2="544.60" stroke="#222" stroke-width="1.0" />
<line x1="121.40" y1="609.60" x2="150.00" y2="609.60" stroke="#4a4a4a" stroke-width="1.3" />
<line x1="127.80" y1="602.00" x2="143.00" y2="617.20" stroke="#222" stroke-width="1.0" />
<text transform="translate(132.30 216.50) rotate(-90) scale(0.935 1.12)" x="0" y="0" font-size="16.3" font-weight="bold" text-anchor="middle" fill="#000" stroke="none">3 800</text>
<text transform="translate(132.30 423.00) rotate(-90) scale(0.935 1.12)" x="0" y="0" font-size="16.3" font-weight="bold" text-anchor="middle" fill="#000" stroke="none">4 700</text>
<text transform="translate(132.30 572.00) rotate(-90) scale(0.935 1.12)" x="0" y="0" font-size="16.3" font-weight="bold" text-anchor="middle" fill="#000" stroke="none">1 500</text>
<line x1="810.50" y1="113.80" x2="810.50" y2="620.00" stroke="#2a2a2a" stroke-width="1.2" />
<line x1="846.80" y1="113.80" x2="846.80" y2="620.00" stroke="#2a2a2a" stroke-width="1.2" />
<line x1="781.20" y1="230.00" x2="781.20" y2="299.00" stroke="#2a2a2a" stroke-width="1.2" />
<line x1="796.00" y1="124.60" x2="824.50" y2="124.60" stroke="#4a4a4a" stroke-width="1.3" />
<line x1="802.90" y1="117.00" x2="818.10" y2="132.20" stroke="#222" stroke-width="1.0" />
<line x1="832.00" y1="124.60" x2="860.70" y2="124.60" stroke="#4a4a4a" stroke-width="1.3" />
<line x1="839.20" y1="117.00" x2="854.40" y2="132.20" stroke="#222" stroke-width="1.0" />
<line x1="796.00" y1="608.60" x2="824.50" y2="608.60" stroke="#4a4a4a" stroke-width="1.3" />
<line x1="802.90" y1="601.00" x2="818.10" y2="616.20" stroke="#222" stroke-width="1.0" />
<line x1="832.00" y1="608.60" x2="860.70" y2="608.60" stroke="#4a4a4a" stroke-width="1.3" />
<line x1="839.20" y1="601.00" x2="854.40" y2="616.20" stroke="#222" stroke-width="1.0" />
<line x1="766.40" y1="241.40" x2="795.00" y2="241.40" stroke="#222" stroke-width="1.3" />
<line x1="773.60" y1="233.80" x2="788.80" y2="249.00" stroke="#222" stroke-width="1.0" />
<line x1="766.40" y1="294.80" x2="824.50" y2="294.80" stroke="#222" stroke-width="1.2" />
<line x1="773.60" y1="287.20" x2="788.80" y2="302.40" stroke="#222" stroke-width="1.0" />
<line x1="802.90" y1="287.20" x2="818.10" y2="302.40" stroke="#222" stroke-width="1.0" />
<line x1="796.00" y1="367.00" x2="824.50" y2="367.00" stroke="#222" stroke-width="1.3" />
<line x1="802.90" y1="359.40" x2="818.10" y2="374.60" stroke="#222" stroke-width="1.0" />
<text transform="translate(808.70 209.50) rotate(-90) scale(0.935 1.12)" x="0" y="0" font-size="16.3" font-weight="bold" text-anchor="middle" fill="#000" stroke="none">3 500</text>
<text transform="translate(808.70 330.20) rotate(-90) scale(0.935 1.12)" x="0" y="0" font-size="16.3" font-weight="bold" text-anchor="middle" fill="#000" stroke="none">1 500</text>
<text transform="translate(809.30 488.00) rotate(-90) scale(0.935 1.12)" x="0" y="0" font-size="16.3" font-weight="bold" text-anchor="middle" fill="#000" stroke="none">5 000</text>
<text transform="translate(779.00 322.30) rotate(-90) scale(0.935 1.12)" x="0" y="0" font-size="16.3" font-weight="bold" text-anchor="middle" fill="#000" stroke="none">1 100</text>
<text transform="translate(844.80 366.60) rotate(-90) scale(0.935 1.12)" x="0" y="0" font-size="16.3" font-weight="bold" text-anchor="middle" fill="#000" stroke="none">10 000</text>
<rect x="949" y="232" width="4" height="1.6" fill="#bdbdbd"/>
<rect x="927" y="316" width="2.5" height="1.4" fill="#bdbdbd"/><rect x="926" y="340.5" width="5" height="1.8" fill="#c4c4c4"/>
<text x="239.00" y="258.60" font-size="13.4" font-weight="bold" text-anchor="middle" fill="#000" textLength="66.0" lengthAdjust="spacingAndGlyphs"  stroke="#000" stroke-width="0.75" stroke-linejoin="round">Котельная</text>
<text x="366.20" y="214.20" font-size="13.4" font-weight="bold" text-anchor="middle" fill="#000" textLength="16.6" lengthAdjust="spacingAndGlyphs"  stroke="#000" stroke-width="0.75" stroke-linejoin="round">с/у</text>
<text x="480.50" y="155.00" font-size="13.4" font-weight="bold" text-anchor="middle" fill="#000" textLength="59.0" lengthAdjust="spacingAndGlyphs"  stroke="#000" stroke-width="0.75" stroke-linejoin="round">Гардероб</text>
<text x="607.30" y="180.00" font-size="13.4" font-weight="bold" text-anchor="middle" fill="#000" textLength="61.3" lengthAdjust="spacingAndGlyphs"  stroke="#000" stroke-width="0.75" stroke-linejoin="round">Кладовая</text>
<text x="491.70" y="320.20" font-size="13.4" font-weight="bold" text-anchor="middle" fill="#000" textLength="61.4" lengthAdjust="spacingAndGlyphs"  stroke="#000" stroke-width="0.75" stroke-linejoin="round">Прихожая</text>
<text x="631.40" y="338.00" font-size="13.4" font-weight="bold" text-anchor="middle" fill="#000" textLength="47.3" lengthAdjust="spacingAndGlyphs"  stroke="#000" stroke-width="0.75" stroke-linejoin="round">Тамбур</text>
<text x="550.50" y="491.00" font-size="13.4" font-weight="bold" text-anchor="middle" fill="#000" textLength="57.0" lengthAdjust="spacingAndGlyphs"  stroke="#000" stroke-width="0.75" stroke-linejoin="round">Гостиная</text>
<text x="307.20" y="411.20" font-size="13.4" font-weight="bold" text-anchor="middle" fill="#3c3c3c" textLength="100.3" lengthAdjust="spacingAndGlyphs"  stroke="#3c3c3c" stroke-width="0.75" stroke-linejoin="round"><tspan fill="#4a4a4a">Ку</tspan><tspan fill="#2e2e2e">хня-ст</tspan><tspan fill="#6e6e6e">оловая</tspan></text>
<text x="280.20" y="584.80" font-size="13.4" font-weight="bold" text-anchor="middle" fill="#000" textLength="52.5" lengthAdjust="spacingAndGlyphs"  stroke="#000" stroke-width="0.75" stroke-linejoin="round">Терраса</text>
</svg>
</body></html>
